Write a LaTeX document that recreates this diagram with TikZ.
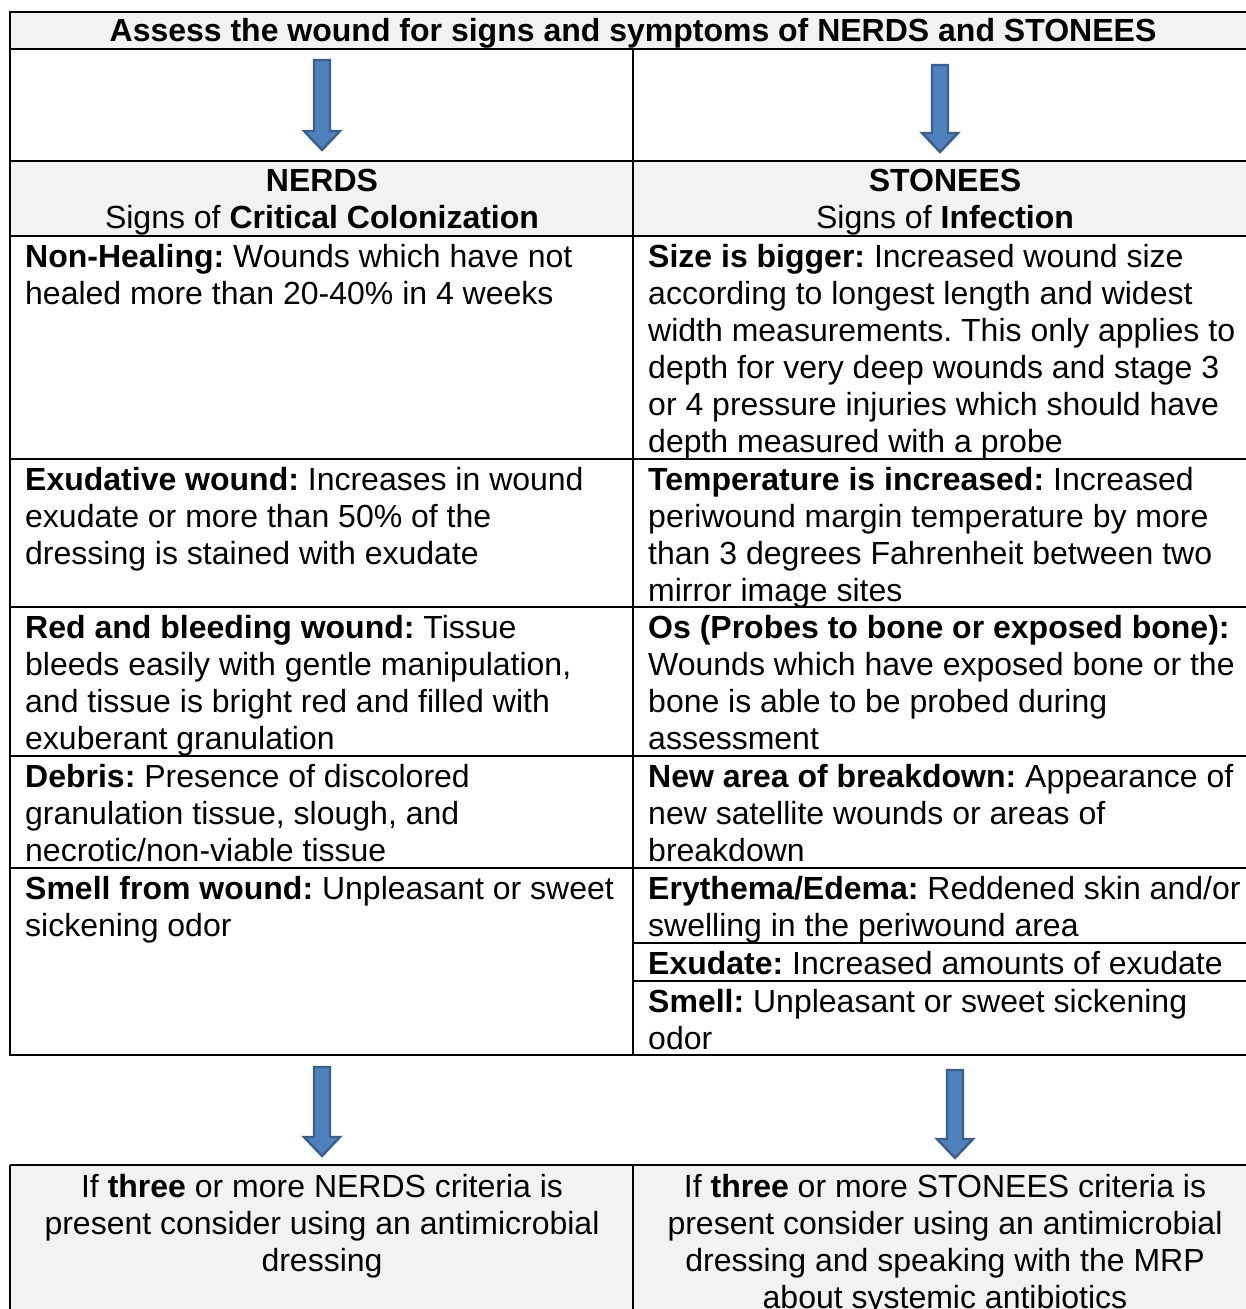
\documentclass[tikz,border=0pt]{standalone}
\usepackage{fontspec}
\setmainfont{Liberation Sans}
\usetikzlibrary{positioning}

\definecolor{cellgray}{HTML}{F2F2F2}
\definecolor{arrowfill}{HTML}{4F81BD}
\definecolor{arrowline}{HTML}{3A5F8B}

\tikzset{
  rule/.style={draw=black,line width=1.6pt},
  graycell/.style={fill=cellgray},
  celltext/.style={anchor=north west,inner sep=0pt,align=left,
    font=\fontsize{32}{37}\selectfont\frenchspacing},
  midtext/.style={anchor=north,inner sep=0pt,align=center,
    font=\fontsize{32}{37}\selectfont\frenchspacing},
  blockarrow/.style={fill=arrowfill,draw=arrowline,line width=2.4pt,line join=miter}
}

% block arrow: centre x, top y, tip y
\newcommand{\blockdown}[3]{%
  \draw[blockarrow] (#1-8,#2) -- (#1+8,#2) -- (#1+8,#3-19) -- (#1+18,#3-19)
    -- (#1,#3) -- (#1-18,#3-19) -- (#1-8,#3-19) -- cycle;}

\begin{document}
\begin{tikzpicture}[x=1pt,y=-1pt]
  \useasboundingbox (0,0) rectangle (1246,1309);
  \clip (0,0) rectangle (1246,1309);

  % backgrounds
  \fill[graycell] (10,12) rectangle (1257,49);
  \fill[graycell] (10,161) rectangle (1257,236);
  \fill[graycell] (10,1165) rectangle (1257,1320);

  % table rules
  \draw[rule] (10,12) rectangle (1257,1055);
  \foreach \y in {49,161,236,459,607,756,868}
    \draw[rule] (10,\y) -- (1257,\y);
  \draw[rule] (633,943) -- (1257,943);
  \draw[rule] (633,981) -- (1257,981);
  \draw[rule] (633,49) -- (633,1055);
  \draw[rule] (10,1165) -- (1257,1165);
  \draw[rule] (10,1165) -- (10,1320);
  \draw[rule] (633,1165) -- (633,1320);

  % heading
  \node[midtext] (title) at (633,18)
    {\textbf{Assess the wound for signs and symptoms of NERDS and STONEES}};
  \node[midtext] (nerds) at (322,169)
    {\textbf{NERDS}\\Signs of \textbf{Critical Colonization}};
  \node[midtext] (stonees) at (945,169)
    {\textbf{STONEES}\\Signs of \textbf{Infection}};

  % arrows
  \blockdown{322}{60}{150}
  \blockdown{940}{65}{152}
  \blockdown{322}{1067}{1156}
  \blockdown{955}{1070}{1158}

  % NERDS column
  \node[celltext] (nonheal) at (25,244)
    {\textbf{Non-Healing:} Wounds which have not\\healed more than 20-40\% in 4 weeks};
  \node[celltext] (exudative) at (25,467)
    {\textbf{Exudative wound:} Increases in wound\\exudate or more than 50\% of the\\dressing is stained with exudate};
  \node[celltext] (redbleed) at (25,615)
    {\textbf{Red and bleeding wound:} Tissue\\bleeds easily with gentle manipulation,\\and tissue is bright red and filled with\\exuberant granulation};
  \node[celltext] (debris) at (25,764)
    {\textbf{Debris:} Presence of discolored\\granulation tissue, slough, and\\necrotic/non-viable tissue};
  \node[celltext] (smellw) at (25,876)
    {\textbf{Smell from wound:} Unpleasant or sweet\\sickening odor};

  % STONEES column
  \node[celltext] (size) at (648,244)
    {\textbf{Size is bigger:} Increased wound size\\according to longest length and widest\\width measurements. This only applies to\\depth for very deep wounds and stage 3\\or 4 pressure injuries which should have\\depth measured with a probe};
  \node[celltext] (temp) at (648,467)
    {\textbf{Temperature is increased:} Increased\\periwound margin temperature by more\\than 3 degrees Fahrenheit between two\\mirror image sites};
  \node[celltext] (os) at (648,615)
    {\textbf{Os (Probes to bone or exposed bone):}\\Wounds which have exposed bone or the\\bone is able to be probed during\\assessment};
  \node[celltext] (newarea) at (648,764)
    {\textbf{New area of breakdown:} Appearance of\\new satellite wounds or areas of\\breakdown};
  \node[celltext] (erythema) at (648,876)
    {\textbf{Erythema/Edema:} Reddened skin and/or\\swelling in the periwound area};
  \node[celltext] (exudate) at (648,951)
    {\textbf{Exudate:} Increased amounts of exudate};
  \node[celltext] (smell) at (648,989)
    {\textbf{Smell:} Unpleasant or sweet sickening\\odor};

  % outcome boxes
  \node[midtext] (nerdsout) at (322,1174)
    {If \textbf{three} or more NERDS criteria is\\present consider using an antimicrobial\\dressing};
  \node[midtext] (stoneesout) at (945,1174)
    {If \textbf{three} or more STONEES criteria is\\present consider using an antimicrobial\\dressing and speaking with the MRP\\about systemic antibiotics};
\end{tikzpicture}
\end{document}
